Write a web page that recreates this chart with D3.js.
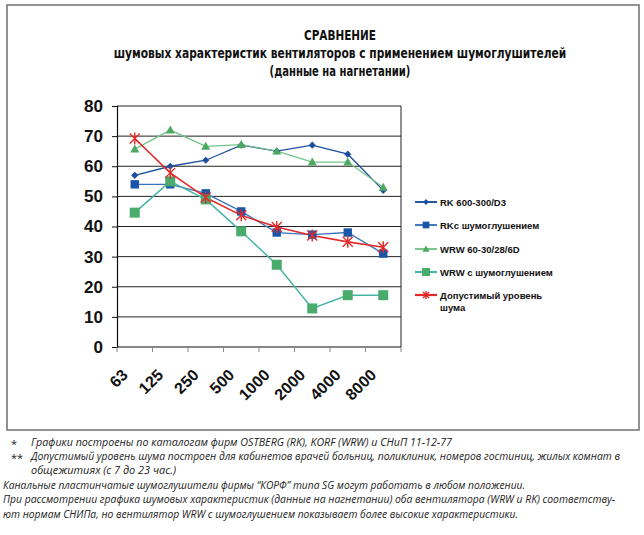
<!DOCTYPE html>
<html><head><meta charset="utf-8">
<script src="https://cdn.jsdelivr.net/npm/d3@7/dist/d3.min.js"></script>
<style>
html,body{margin:0;padding:0;background:#fff;}
svg{display:block;}
</style></head>
<body>
<script>
// ---- data ----
const categories = ["63","125","250","500","1000","2000","4000","8000"];
const rk = [57,60,62,67,65,67,64,52];
const rkMuf = [54,54,51,45,38,37.3,38,31];
const wrw = [65.7,72,66.6,67.2,65,61.4,61.4,53];
const wrwMuf = [44.6,55,49,38.4,27.3,12.8,17.2,17.2];
const allowed = [69.2,57.8,49.6,43.7,39.8,37,34.9,33.1];
const yTicks = [0,10,20,30,40,50,60,70,80];
const seriesNames = ["RK 600-300/D3","RKc шумоглушением","WRW 60-30/28/6D","WRW с шумоглушением","Допустимый уровень|шума"];
const titleLines = ["СРАВНЕНИЕ","шумовых характеристик вентиляторов с применением шумоглушителей","(данные на нагнетании)"];
const notes = [
 {mark:"*", text:"Графики построены по каталогам фирм OSTBERG (RK), KORF (WRW) и СНиП 11-12-77"},
 {mark:"**", text:"Допустимый уровень шума построен для кабинетов врачей больниц, поликлиник, номеров гостиниц, жилых комнат в"},
 {mark:"", text:"общежитиях (с 7 до 23 час.)"},
 {mark:null, text:"Канальные пластинчатые шумоглушители фирмы “КОРФ” типа SG могут работать в любом положении."},
 {mark:null, text:"При рассмотрении графика шумовых характеристик (данные на нагнетании) оба вентилятора (WRW и RK) соответству-"},
 {mark:null, text:"ют нормам СНИПа, но вентилятор WRW с шумоглушением показывает более высокие характеристики."}
];

const W = 644, H = 535;
const svg = d3.select("body").append("svg").attr("width", W).attr("height", H);

// outer frame
svg.append("rect").attr("x",7).attr("y",5).attr("width",632).attr("height",425)
  .attr("fill","none").attr("stroke","#777").attr("stroke-width",1.6);

// title (horizontally condensed with a scale transform)
const tf = "'Liberation Sans Narrow','DejaVu Sans Condensed','Arial Narrow','Liberation Sans',sans-serif";
const tY = [40,58,76];
const tW = [72,453,141];
titleLines.forEach((t,i)=>{
  const g = svg.append("g");
  const txt = g.append("text").attr("x",0).attr("y",0).attr("text-anchor","middle")
    .attr("font-family",tf).attr("font-weight","bold").attr("font-size",14.5)
    .attr("fill","#111").text(t);
  const natural = txt.node().getComputedTextLength();
  const sx = Math.min(1, tW[i]/natural);
  g.attr("transform",`translate(340,${tY[i]}) scale(${sx},1)`);
});

// scales
const px0 = 117, px1 = 401, py0 = 106, py1 = 347;
const x = d3.scaleBand().domain(categories).range([px0,px1]).padding(0);
const y = d3.scaleLinear().domain([0,80]).range([py1,py0]);
const cx = c => x(c) + x.bandwidth()/2;

// gridlines
svg.append("g").selectAll("line").data(yTicks.filter(v=>v>0)).join("line")
  .attr("x1",px0).attr("x2",px1).attr("y1",d=>y(d)).attr("y2",d=>y(d))
  .attr("stroke","#222").attr("stroke-width",1);
// right border of plot
svg.append("line").attr("x1",px1).attr("x2",px1).attr("y1",py0).attr("y2",py1)
  .attr("stroke","#222").attr("stroke-width",1);

// y axis
const ya = svg.append("g").attr("transform",`translate(${px0},0)`)
  .call(d3.axisLeft(y).tickValues(yTicks).tickSize(5).tickPadding(9).tickFormat(d3.format("d")));
ya.select(".domain").attr("stroke","#111").attr("stroke-width",1.2);
ya.selectAll(".tick line").attr("stroke","#111");
ya.selectAll("text").attr("font-family","'Liberation Sans',Arial,sans-serif")
  .attr("font-weight","bold").attr("font-size",17).attr("fill","#111");

// x axis line + ticks at band boundaries
svg.append("line").attr("x1",px0).attr("x2",px1).attr("y1",py1).attr("y2",py1)
  .attr("stroke","#111").attr("stroke-width",1.2);
const bounds = categories.map(c=>x(c)).concat([px1]);
svg.append("g").selectAll("line").data(bounds).join("line")
  .attr("x1",d=>d).attr("x2",d=>d).attr("y1",py1).attr("y2",py1+5)
  .attr("stroke","#888").attr("stroke-width",1);
// x labels
svg.append("g").selectAll("text").data(categories).join("text")
  .attr("transform",d=>`translate(${cx(d)-6},${py1+29}) rotate(-45)`)
  .attr("text-anchor","end")
  .attr("font-family","'Liberation Sans',Arial,sans-serif")
  .attr("font-weight","bold").attr("font-size",16).attr("fill","#111")
  .text(d=>d);

// markers
function marker(g, type, color, size){
  if(type==="diamond"){
    g.append("path").attr("d",`M0,${-size}L${size},0L0,${size}L${-size},0Z`).attr("fill",color);
  } else if(type==="square"){
    g.append("rect").attr("x",-size).attr("y",-size).attr("width",2*size).attr("height",2*size).attr("fill",color);
  } else if(type==="triangle"){
    g.append("path").attr("d",`M0,${-size}L${size},${size*0.75}L${-size},${size*0.75}Z`).attr("fill",color);
  } else if(type==="star"){
    const s=size;
    g.append("path").attr("d",`M${-s},${-s}L${s},${s}M${-s},${s}L${s},${-s}M0,${-s-1}L0,${s+1}`)
      .attr("stroke",color).attr("stroke-width",1.4).attr("fill","none");
  }
}

const series = [
  {vals:rk, line:"#1d4f9e", mcol:"#1d4f9e", type:"diamond", size:3.6, lw:1.3},
  {vals:rkMuf, line:"#3a73ba", mcol:"#1856a8", type:"square", size:4.2, lw:1.3},
  {vals:wrw, line:"#74c488", mcol:"#4ea862", type:"triangle", size:4.5, lw:1.3},
  {vals:wrwMuf, line:"#45b5a6", mcol:"#4aac6c", type:"square", size:5, lw:1.5},
  {vals:allowed, line:"#e32a2a", mcol:"#e32a2a", type:"star", size:5, lw:1.6}
];
const lineGen = d3.line().x((d,i)=>cx(categories[i])).y(d=>y(d));
series.forEach(s=>{
  svg.append("path").datum(s.vals).attr("d",lineGen).attr("fill","none")
    .attr("stroke",s.line).attr("stroke-width",s.lw);
});
series.forEach(s=>{
  s.vals.forEach((v,i)=>{
    const g = svg.append("g").attr("transform",`translate(${cx(categories[i])},${y(v)})`);
    marker(g, s.type, s.mcol, s.size);
  });
});

// legend
const legY = [202,225,249,272,295];
seriesNames.forEach((name,i)=>{
  const s = series[i];
  const ly = legY[i];
  svg.append("line").attr("x1",415).attr("x2",437).attr("y1",ly).attr("y2",ly)
    .attr("stroke",s.line).attr("stroke-width",s.lw+0.6);
  const g = svg.append("g").attr("transform",`translate(426,${ly})`);
  marker(g, s.type, s.mcol, s.type==="star"?3:s.size*0.8);
  const parts = name.split("|");
  parts.forEach((p,j)=>{
    svg.append("text").attr("x",440).attr("y",ly+3.5+j*12.5)
      .attr("font-family","'Liberation Sans',Arial,sans-serif").attr("font-weight","bold")
      .attr("font-size",9.5).attr("fill","#111").text(p);
  });
});

// footnotes
const nf = "'Open Sans','Noto Sans',sans-serif";
const nY = [446,460,474,489,503,518];
const nEnd = [452,620,176,525,615,518];
notes.forEach((n,i)=>{
  const tx = n.mark===null ? 3 : 31;
  if(n.mark){
    svg.append("text").attr("x",11).attr("y",nY[i]+2).attr("font-family",nf)
      .attr("font-size",11).attr("fill","#222").text(n.mark);
  }
  svg.append("text").attr("x",tx).attr("y",nY[i]).attr("font-family",nf)
    .attr("font-style","italic").attr("font-size",10.5).attr("fill","#222")
    .attr("textLength",nEnd[i]-tx).attr("lengthAdjust","spacingAndGlyphs")
    .text(n.text);
});
</script>
</body></html>
